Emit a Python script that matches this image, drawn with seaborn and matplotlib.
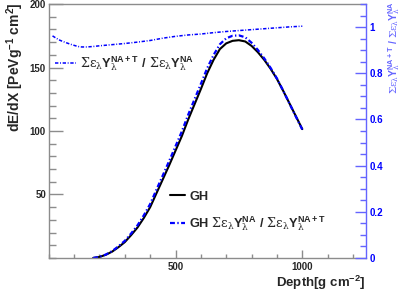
import matplotlib
matplotlib.use("Agg")
import matplotlib.pyplot as plt
from matplotlib.ticker import MultipleLocator
from matplotlib.lines import Line2D
import pandas as pd
import seaborn as sns

# GH profile (depth in g/cm2, dE/dX in PeV g-1 cm2)
depth_gh = [175, 200, 225, 250, 275, 300, 325, 350, 375, 400, 425, 450, 475, 500, 525, 550, 575,
            600, 625, 650, 675, 700, 725, 750, 775, 800, 825, 850, 875, 900, 925, 950, 975, 1000]
gh = [0, 0.8, 2.5, 5, 8.5, 12.5, 18, 24, 31.5, 40, 51, 62, 73, 84.5, 96, 109, 121,
      133, 145.5, 156, 164.5, 169, 171, 171.5, 170.5, 167, 162, 156, 149, 141, 131.5, 121.5, 111.5, 101.5]
gh_scaled = [0, 0.9, 2.7, 5.4, 9.2, 13.5, 19.3, 25.7, 33.6, 42.5, 53.9, 65.1, 76.4, 88, 99.7, 112.8, 125,
             137.1, 149.5, 159.8, 168.3, 173, 175, 175.3, 173.8, 169.5, 163.8, 157.2, 149.7, 141.4, 131.6, 121.4, 111.2, 101.1]

# yield ratio (right axis)
depth_ratio = [15, 25, 40, 55, 70, 85, 100, 115, 130, 150, 175, 200, 250, 300, 350, 400, 450, 500,
               550, 600, 650, 700, 750, 800, 850, 900, 950, 1000]
ratio = [0.962, 0.955, 0.945, 0.938, 0.932, 0.926, 0.921, 0.916, 0.914, 0.914, 0.916, 0.919, 0.924,
         0.929, 0.935, 0.942, 0.952, 0.960, 0.966, 0.970, 0.976, 0.981, 0.985, 0.989, 0.993, 0.997,
         1.001, 1.004]

right_ticks = [0, 0.2, 0.4, 0.6, 0.8, 1.0]
right_ticklabels = ["0", "0.2", "0.4", "0.6", "0.8", "1"]

sns.set_theme(style="white")
plt.rcParams["font.family"] = ["Liberation Sans", "DejaVu Sans"]
plt.rcParams["mathtext.fontset"] = "custom"
plt.rcParams["mathtext.rm"] = "DejaVu Serif"
plt.rcParams["mathtext.it"] = "DejaVu Serif"
plt.rcParams["mathtext.bf"] = "Liberation Sans:bold"

BLUE = "#0000ff"
AXBLUE = "#6464ff"
GRAY = "#8c8c8c"
DASHDOT = (0, (2.2, 1.1, 0.6, 1.1))

ratio_txt = (r"$\Sigma\varepsilon_{\lambda}\mathbf{Y}_{\lambda}^{\mathbf{NA+T}}\ \mathbf{/}\ "
             r"\Sigma\varepsilon_{\lambda}\mathbf{Y}_{\lambda}^{\mathbf{NA}}$")
inv_txt = (r"GH $\Sigma\varepsilon_{\lambda}\mathbf{Y}_{\lambda}^{\mathbf{NA}}\ \mathbf{/}\ "
           r"\Sigma\varepsilon_{\lambda}\mathbf{Y}_{\lambda}^{\mathbf{NA+T}}$")

df_gh = pd.DataFrame({"depth": depth_gh, "gh": gh, "gh_scaled": gh_scaled})
df_r = pd.DataFrame({"depth": depth_ratio, "ratio": ratio})

fig, ax = plt.subplots(figsize=(4.07, 2.93), dpi=100)
fig.subplots_adjust(left=0.1197, right=0.8985, bottom=0.1195, top=0.9863)

sns.lineplot(data=df_gh, x="depth", y="gh", ax=ax, color="black", linewidth=1.5)
sns.lineplot(data=df_gh, x="depth", y="gh_scaled", ax=ax, color=BLUE, linewidth=1.6,
             linestyle=DASHDOT)

ax.set_xlim(0, 1250)
ax.set_ylim(0, 200)
ax.set_xticks([500, 1000])
ax.xaxis.set_minor_locator(MultipleLocator(100))
ax.set_yticks([50, 100, 150, 200])
ax.yaxis.set_minor_locator(MultipleLocator(10))
ax.tick_params(axis="y", which="major", direction="in", length=10, width=1, color=GRAY,
               labelsize=7, pad=2, left=True)
ax.tick_params(axis="y", which="minor", direction="in", length=5, width=1, color=GRAY, left=True)
ax.tick_params(axis="x", which="major", direction="in", length=6, width=1, color=GRAY,
               labelsize=7, pad=3, bottom=True)
ax.tick_params(axis="x", which="minor", direction="in", length=3, width=1, color=GRAY, bottom=True)
for lab in ax.get_xticklabels() + ax.get_yticklabels():
    lab.set_fontweight("bold")
for side in ["left", "bottom", "top"]:
    ax.spines[side].set_color(GRAY)
    ax.spines[side].set_linewidth(1)
ax.spines["right"].set_visible(False)

ax.set_xlabel(r"Depth[g cm$^{\mathbf{-2}}$]", fontsize=9.5, fontweight="bold", loc="right")
ax.xaxis.set_label_coords(1.0, -0.062)
ax.set_ylabel(r"dE/dX [PeVg$^{\mathbf{-1}}$ cm$^{\mathbf{2}}$]", fontsize=10, fontweight="bold", loc="top")
ax.yaxis.set_label_coords(-0.072, 1.008)

ax2 = ax.twinx()
sns.lineplot(data=df_r, x="depth", y="ratio", ax=ax2, color=BLUE, linewidth=1.1, linestyle=DASHDOT)
ax2.set_ylim(0, 1.1)
ax2.set_yticks(right_ticks)
ax2.set_yticklabels(right_ticklabels, fontweight="bold", color=BLUE)
ax2.yaxis.set_minor_locator(MultipleLocator(0.05))
ax2.tick_params(axis="y", which="major", direction="in", length=8, width=1, color=AXBLUE,
                labelsize=7, pad=3, right=True)
ax2.tick_params(axis="y", which="minor", direction="in", length=4, width=1, color=AXBLUE, right=True)
for side in ["left", "bottom", "top"]:
    ax2.spines[side].set_visible(False)
ax2.spines["right"].set_color(AXBLUE)
ax2.spines["right"].set_linewidth(1)
ax2.set_ylabel(ratio_txt, fontsize=7.5, color=AXBLUE, loc="top")
ax2.yaxis.set_label_coords(1.064, 1.012)

# legends (no frame, ROOT style)
leg_kw = dict(frameon=False, borderpad=0, borderaxespad=0, handletextpad=0.3,
              prop={"weight": "bold", "size": 9.2})
h_ratio = Line2D([], [], color=BLUE, linewidth=1.1, linestyle=DASHDOT)
h_gh = Line2D([], [], color="black", linewidth=1.5)
h_inv = Line2D([], [], color=BLUE, linewidth=1.6, linestyle=DASHDOT)

leg1 = ax2.legend([h_ratio], [ratio_txt], loc="center left", bbox_to_anchor=(0.02, 0.764),
                  handlelength=1.65, **leg_kw)
ax2.add_artist(leg1)
leg2 = ax2.legend([h_gh], ["GH"], loc="center left", bbox_to_anchor=(0.383, 0.242),
                  handlelength=1.2, **leg_kw)
ax2.add_artist(leg2)
ax2.legend([h_inv], [inv_txt], loc="center left", bbox_to_anchor=(0.383, 0.134),
           handlelength=1.2, **leg_kw)

fig.savefig("out.png", dpi=100, facecolor="white")
plt.close(fig)
